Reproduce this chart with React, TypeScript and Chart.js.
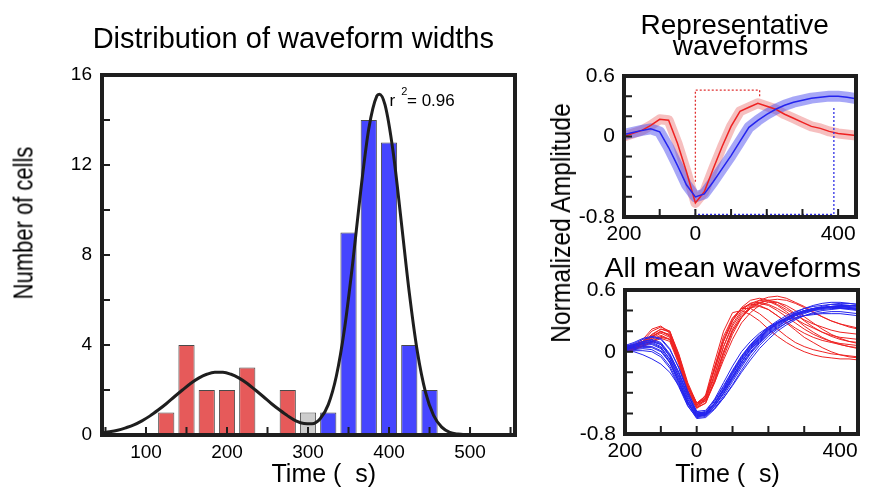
import React, { useEffect, useRef } from 'react';
import { Chart, registerables } from 'chart.js';

Chart.register(...registerables);

const FONT = '"Liberation Sans", Arial, Helvetica, sans-serif';
const INK = '#1e1e1e';

// ---------------- Histogram (left) ----------------
const BIN_CENTERS = [125, 150, 175, 200, 225, 250, 275, 300, 325, 350, 375, 400, 425, 450];
const CELL_COUNTS = [1, 4, 2, 2, 3, 0, 2, 1, 1, 9, 14, 13, 4, 2];
const BIN_GROUPS = ['narrow', 'narrow', 'narrow', 'narrow', 'narrow', 'narrow', 'narrow', 'mixed', 'wide', 'wide', 'wide', 'wide', 'wide', 'wide'];
const GROUP_COLORS: Record<string, string> = { narrow: '#E65A5A', mixed: '#CDCDCD', wide: '#4545FF' };

// fitted double-gaussian curve
const FIT_X = [45, 55, 65, 75, 85, 95, 105, 115, 125, 135, 145, 155, 165, 175, 185, 195, 205, 215, 225, 235, 245, 255, 265, 275, 285, 295, 305, 315, 325, 335, 345, 355, 365, 375, 385, 388, 395, 405, 415, 425, 435, 445, 455, 465, 475, 485, 495, 505, 525, 555];
const FIT_Y = [0.09, 0.14, 0.21, 0.32, 0.45, 0.63, 0.85, 1.11, 1.39, 1.70, 2.00, 2.29, 2.53, 2.70, 2.79, 2.79, 2.70, 2.53, 2.29, 2.00, 1.70, 1.39, 1.11, 0.85, 0.63, 0.51, 0.50, 0.72, 1.35, 2.62, 4.71, 7.59, 10.83, 13.61, 15.07, 15.15, 14.68, 12.60, 9.52, 6.33, 3.70, 1.91, 0.87, 0.35, 0.12, 0.04, 0.01, 0, 0, 0];

const HIST_X_LABELS = [100, 200, 300, 400, 500];
const HIST_Y_LABELS = [0, 4, 8, 12, 16];

// ---------------- Waveforms (right) ----------------
const T = [-200, -175, -150, -125, -100, -75, -50, -25, 0, 25, 50, 75, 100, 125, 150, 175, 200, 225, 250, 275, 300, 325, 350, 375, 400, 425, 450];

const RED_MEAN = [0.0, 0.03, 0.06, 0.11, 0.17, 0.16, -0.07, -0.35, -0.66, -0.55, -0.32, -0.1, 0.1, 0.25, 0.29, 0.33, 0.3, 0.27, 0.22, 0.18, 0.14, 0.1, 0.08, 0.05, 0.03, 0.02, 0.01];
const BLUE_MEAN = [0.02, 0.04, 0.06, 0.075, 0.045, -0.11, -0.29, -0.48, -0.6, -0.57, -0.45, -0.32, -0.19, -0.05, 0.09, 0.16, 0.22, 0.27, 0.31, 0.34, 0.36, 0.38, 0.39, 0.4, 0.4, 0.39, 0.375];

const RED_MARK_X = [0, 0, 180, 180];
const RED_MARK_Y = [-0.45, 0.46, 0.46, 0.39];
const BLUE_MARK_X = [0, 0, 388, 388];
const BLUE_MARK_Y = [-0.72, -0.773, -0.773, 0.29];

const NARROW_1 = [0.02, 0.05, 0.1, 0.2, 0.24, 0.2, -0.05, -0.35, -0.52, -0.42, -0.1, 0.2, 0.38, 0.4, 0.36, 0.3, 0.22, 0.15, 0.09, 0.04, 0.0, -0.03, -0.05, -0.06, -0.07, -0.07, -0.08];
const NARROW_2 = [0.03, 0.06, 0.12, 0.22, 0.25, 0.18, -0.08, -0.38, -0.55, -0.45, -0.15, 0.15, 0.33, 0.42, 0.42, 0.37, 0.3, 0.22, 0.15, 0.09, 0.05, 0.02, 0.0, -0.02, -0.03, -0.04, -0.05];
const NARROW_3 = [0.0, 0.03, 0.08, 0.15, 0.2, 0.15, -0.1, -0.38, -0.52, -0.47, -0.22, 0.05, 0.25, 0.38, 0.45, 0.47, 0.45, 0.4, 0.34, 0.28, 0.22, 0.17, 0.13, 0.1, 0.08, 0.07, 0.06];
const NARROW_4 = [0.01, 0.04, 0.07, 0.12, 0.16, 0.12, -0.1, -0.36, -0.5, -0.48, -0.28, -0.02, 0.2, 0.34, 0.43, 0.48, 0.5, 0.48, 0.43, 0.37, 0.3, 0.24, 0.19, 0.15, 0.12, 0.1, 0.09];
const NARROW_5 = [0.04, 0.06, 0.1, 0.16, 0.22, 0.2, -0.02, -0.3, -0.5, -0.43, -0.18, 0.1, 0.3, 0.43, 0.5, 0.52, 0.5, 0.46, 0.41, 0.36, 0.31, 0.27, 0.24, 0.21, 0.19, 0.18, 0.17];
const NARROW_6 = [0.02, 0.04, 0.08, 0.13, 0.18, 0.14, -0.08, -0.34, -0.5, -0.46, -0.25, 0.0, 0.2, 0.33, 0.42, 0.47, 0.5, 0.51, 0.5, 0.47, 0.43, 0.38, 0.34, 0.3, 0.27, 0.25, 0.23];
const NARROW_7 = [0.0, 0.02, 0.06, 0.1, 0.15, 0.12, -0.1, -0.38, -0.53, -0.48, -0.3, -0.08, 0.12, 0.28, 0.38, 0.45, 0.48, 0.48, 0.45, 0.4, 0.34, 0.28, 0.22, 0.17, 0.13, 0.1, 0.08];
const NARROW_8 = [0.05, 0.07, 0.1, 0.15, 0.19, 0.17, -0.04, -0.32, -0.52, -0.44, -0.15, 0.12, 0.32, 0.42, 0.46, 0.45, 0.41, 0.35, 0.29, 0.23, 0.18, 0.14, 0.11, 0.09, 0.07, 0.05, 0.04];
const NARROW_9 = [0.01, 0.03, 0.06, 0.1, 0.14, 0.12, -0.06, -0.33, -0.5, -0.45, -0.22, 0.05, 0.27, 0.4, 0.47, 0.5, 0.49, 0.45, 0.39, 0.32, 0.25, 0.19, 0.14, 0.1, 0.07, 0.05, 0.03];
const NARROW_10 = [0.03, 0.05, 0.09, 0.14, 0.2, 0.16, -0.05, -0.34, -0.54, -0.5, -0.3, -0.05, 0.17, 0.33, 0.44, 0.5, 0.53, 0.54, 0.52, 0.48, 0.44, 0.39, 0.34, 0.3, 0.27, 0.24, 0.22];
const NARROW_11 = [0.0, 0.02, 0.05, 0.09, 0.13, 0.1, -0.12, -0.4, -0.55, -0.5, -0.28, 0.0, 0.22, 0.36, 0.43, 0.44, 0.41, 0.35, 0.28, 0.21, 0.14, 0.09, 0.04, 0.0, -0.03, -0.05, -0.06];
const NARROW_12 = [0.02, 0.04, 0.09, 0.17, 0.22, 0.19, -0.03, -0.32, -0.5, -0.43, -0.17, 0.1, 0.3, 0.42, 0.47, 0.48, 0.46, 0.42, 0.37, 0.32, 0.27, 0.23, 0.19, 0.16, 0.14, 0.13, 0.12];

const WIDE_1 = [0.03, 0.06, 0.08, 0.09, 0.05, -0.08, -0.27, -0.48, -0.62, -0.6, -0.5, -0.36, -0.2, -0.06, 0.06, 0.15, 0.22, 0.28, 0.32, 0.36, 0.39, 0.41, 0.42, 0.43, 0.43, 0.42, 0.41];
const WIDE_2 = [0.05, 0.08, 0.12, 0.14, 0.12, 0.02, -0.15, -0.38, -0.58, -0.6, -0.52, -0.4, -0.26, -0.12, 0.0, 0.1, 0.18, 0.25, 0.3, 0.35, 0.38, 0.41, 0.43, 0.44, 0.45, 0.45, 0.44];
const WIDE_3 = [0.0, 0.0, -0.03, -0.07, -0.12, -0.2, -0.33, -0.5, -0.63, -0.62, -0.53, -0.4, -0.25, -0.1, 0.03, 0.13, 0.21, 0.28, 0.33, 0.37, 0.4, 0.42, 0.43, 0.44, 0.44, 0.43, 0.42];
const WIDE_4 = [0.02, 0.04, 0.06, 0.07, 0.03, -0.1, -0.3, -0.5, -0.64, -0.63, -0.55, -0.43, -0.29, -0.15, -0.02, 0.08, 0.17, 0.24, 0.3, 0.35, 0.39, 0.42, 0.44, 0.46, 0.47, 0.47, 0.46];
const WIDE_5 = [0.06, 0.09, 0.13, 0.15, 0.13, 0.03, -0.16, -0.4, -0.6, -0.58, -0.46, -0.3, -0.14, 0.0, 0.1, 0.18, 0.24, 0.28, 0.31, 0.33, 0.35, 0.36, 0.37, 0.37, 0.37, 0.36, 0.35];
const WIDE_6 = [0.01, 0.02, 0.03, 0.02, -0.03, -0.14, -0.32, -0.52, -0.65, -0.64, -0.56, -0.45, -0.32, -0.18, -0.05, 0.06, 0.15, 0.22, 0.28, 0.33, 0.37, 0.4, 0.42, 0.43, 0.44, 0.44, 0.43];
const WIDE_7 = [0.04, 0.06, 0.09, 0.1, 0.07, -0.04, -0.22, -0.44, -0.6, -0.6, -0.5, -0.37, -0.22, -0.08, 0.04, 0.13, 0.21, 0.27, 0.32, 0.36, 0.39, 0.41, 0.43, 0.44, 0.45, 0.45, 0.45];
const WIDE_8 = [0.02, 0.03, 0.04, 0.04, 0.0, -0.1, -0.28, -0.49, -0.63, -0.61, -0.51, -0.38, -0.24, -0.1, 0.02, 0.11, 0.19, 0.26, 0.31, 0.35, 0.38, 0.4, 0.41, 0.42, 0.42, 0.41, 0.4];
const WIDE_9 = [0.05, 0.07, 0.1, 0.12, 0.09, -0.02, -0.2, -0.42, -0.59, -0.59, -0.5, -0.38, -0.24, -0.1, 0.02, 0.12, 0.2, 0.27, 0.33, 0.38, 0.42, 0.45, 0.47, 0.48, 0.48, 0.47, 0.46];
const WIDE_10 = [0.03, 0.05, 0.07, 0.08, 0.04, -0.07, -0.25, -0.46, -0.61, -0.61, -0.53, -0.41, -0.27, -0.13, -0.01, 0.09, 0.17, 0.23, 0.28, 0.32, 0.35, 0.37, 0.38, 0.39, 0.39, 0.38, 0.37];
const WIDE_11 = [0.0, 0.01, 0.01, 0.0, -0.05, -0.16, -0.34, -0.53, -0.64, -0.61, -0.5, -0.36, -0.21, -0.07, 0.05, 0.14, 0.22, 0.28, 0.33, 0.37, 0.4, 0.42, 0.43, 0.43, 0.43, 0.42, 0.41];
const WIDE_12 = [0.04, 0.07, 0.1, 0.11, 0.08, -0.03, -0.2, -0.42, -0.58, -0.57, -0.47, -0.33, -0.18, -0.04, 0.07, 0.16, 0.23, 0.29, 0.33, 0.37, 0.4, 0.42, 0.43, 0.44, 0.44, 0.43, 0.42];
const WIDE_13 = [0.02, 0.04, 0.05, 0.05, 0.01, -0.11, -0.3, -0.5, -0.62, -0.62, -0.55, -0.45, -0.33, -0.2, -0.08, 0.03, 0.12, 0.2, 0.26, 0.31, 0.35, 0.38, 0.4, 0.41, 0.42, 0.42, 0.41];
const WIDE_14 = [0.03, 0.05, 0.08, 0.1, 0.07, -0.05, -0.24, -0.46, -0.61, -0.59, -0.48, -0.34, -0.19, -0.05, 0.07, 0.16, 0.24, 0.3, 0.35, 0.39, 0.42, 0.44, 0.45, 0.46, 0.46, 0.45, 0.44];

const NARROW_WAVES = [NARROW_1, NARROW_2, NARROW_3, NARROW_4, NARROW_5, NARROW_6, NARROW_7, NARROW_8, NARROW_9, NARROW_10, NARROW_11, NARROW_12];
const WIDE_WAVES = [WIDE_1, WIDE_2, WIDE_3, WIDE_4, WIDE_5, WIDE_6, WIDE_7, WIDE_8, WIDE_9, WIDE_10, WIDE_11, WIDE_12, WIDE_13, WIDE_14];

const WAVE_X_TICK_VALUES = [-200, 0, 400];
const WAVE_X_TICK_TEXT = ['200', '0', '400'];
const WAVE_Y_TICK_VALUES = [0.6, 0, -0.8];
const WAVE_Y_TICK_TEXT = ['0.6', '0', '-0.8'];

const RED = '#EE2222';
const BLUE = '#2424EE';

// ---------------- helpers ----------------
const pts = (xs: number[], ys: number[]) => xs.map((x, i) => ({ x, y: ys[i] }));

const framePlugin = {
  id: 'frame',
  afterDatasetsDraw(chart: any, _args: any, opts: any) {
    const { ctx, chartArea: a, scales } = chart;
    const xs = scales.x;
    const ys = scales.y;
    const len = opts.tickLength ?? 8;
    ctx.save();
    ctx.strokeStyle = INK;
    ctx.lineWidth = opts.tickWidth ?? 2;
    ctx.beginPath();
    xs.ticks.forEach((t: any) => {
      const px = xs.getPixelForValue(t.value);
      if (px < a.left + 3 || px > a.right - 3) return;
      ctx.moveTo(px, a.bottom);
      ctx.lineTo(px, a.bottom - len);
    });
    ys.ticks.forEach((t: any) => {
      const py = ys.getPixelForValue(t.value);
      if (py < a.top + 3 || py > a.bottom - 3) return;
      ctx.moveTo(a.left, py);
      ctx.lineTo(a.left + len, py);
    });
    ctx.stroke();
    ctx.lineWidth = opts.width ?? 4;
    ctx.strokeRect(a.left, a.top, a.right - a.left, a.bottom - a.top);
    ctx.restore();
  },
};

const matchLabel = (vals: number[], texts: string[]) => (v: any) => {
  const n = Number(v);
  for (let i = 0; i < vals.length; i++) if (Math.abs(vals[i] - n) < 1e-6) return texts[i];
  return '';
};

function histConfig(): any {
  return {
    type: 'bar',
    data: {
      datasets: [
        {
          type: 'line',
          data: pts(FIT_X, FIT_Y),
          borderColor: INK,
          borderWidth: 3,
          pointRadius: 0,
          cubicInterpolationMode: 'monotone',
          fill: false,
        },
        {
          type: 'bar',
          data: pts(BIN_CENTERS, CELL_COUNTS),
          backgroundColor: BIN_GROUPS.map((g) => GROUP_COLORS[g]),
          borderColor: '#4a4a4a',
          borderWidth: 1,
          barPercentage: 0.8,
          categoryPercentage: 1,
        },
      ],
    },
    options: {
      responsive: false,
      animation: false,
      devicePixelRatio: 1,
      layout: { padding: { left: 0, top: 75, right: 45, bottom: 0 } },
      plugins: {
        legend: { display: false },
        tooltip: { enabled: false },
        frame: { width: 4, tickLength: 8, tickWidth: 2 },
      },
      scales: {
        x: {
          type: 'linear',
          min: 45.7,
          max: 555.5,
          offset: false,
          grid: { display: false, drawTicks: false },
          border: { display: false },
          ticks: {
            stepSize: 50,
            includeBounds: false,
            autoSkip: false,
            maxRotation: 0,
            padding: 6,
            color: '#000',
            font: { family: FONT, size: 19 },
            callback: (v: any) => (HIST_X_LABELS.includes(Number(v)) ? String(v) : ''),
          },
          afterFit: (s: any) => {
            s.height = 56;
          },
        },
        y: {
          type: 'linear',
          min: 0,
          max: 16,
          grid: { display: false, drawTicks: false },
          border: { display: false },
          ticks: {
            stepSize: 2,
            autoSkip: false,
            padding: 10,
            color: '#000',
            font: { family: FONT, size: 19 },
            callback: (v: any) => (HIST_Y_LABELS.includes(Number(v)) ? String(v) : ''),
          },
          afterFit: (s: any) => {
            s.width = 102;
          },
        },
      },
    },
    plugins: [framePlugin],
  };
}

function waveScales(yWidth: number, xHeight: number): any {
  return {
    x: {
      type: 'linear',
      min: -200,
      max: 450,
      offset: false,
      grid: { display: false, drawTicks: false },
      border: { display: false },
      ticks: {
        stepSize: 100,
        includeBounds: false,
        autoSkip: false,
        maxRotation: 0,
        padding: 5,
        color: '#000',
        font: { family: FONT, size: 21 },
        callback: matchLabel(WAVE_X_TICK_VALUES, WAVE_X_TICK_TEXT),
      },
      afterFit: (s: any) => {
        s.height = xHeight;
      },
    },
    y: {
      type: 'linear',
      min: -0.8,
      max: 0.6,
      grid: { display: false, drawTicks: false },
      border: { display: false },
      ticks: {
        stepSize: 0.2,
        autoSkip: false,
        padding: 9,
        color: '#000',
        font: { family: FONT, size: 21 },
        callback: matchLabel(WAVE_Y_TICK_VALUES, WAVE_Y_TICK_TEXT),
      },
      afterFit: (s: any) => {
        s.width = yWidth;
      },
    },
  };
}

const lineDs = (data: any, color: string, width: number, extra: any = {}) => ({
  type: 'line',
  data,
  borderColor: color,
  borderWidth: width,
  pointRadius: 0,
  fill: false,
  tension: 0,
  ...extra,
});

function repConfig(): any {
  return {
    type: 'line',
    data: {
      // first dataset is drawn on top
      datasets: [
        lineDs(pts(BLUE_MARK_X, BLUE_MARK_Y), '#3030E6', 1.3, { borderDash: [2, 2] }),
        lineDs(pts(RED_MARK_X, RED_MARK_Y), '#E03030', 1.3, { borderDash: [2, 2] }),
        lineDs(pts(T, BLUE_MEAN), BLUE, 1.5),
        lineDs(pts(T, RED_MEAN), RED, 1.5),
        lineDs(pts(T, BLUE_MEAN), 'rgba(80, 80, 240, 0.5)', 11, { borderJoinStyle: 'round' }),
        lineDs(pts(T, RED_MEAN), 'rgba(232, 95, 95, 0.4)', 10, { borderJoinStyle: 'round' }),
      ],
    },
    options: {
      responsive: false,
      animation: false,
      devicePixelRatio: 1,
      layout: { padding: { left: 0, top: 76, right: 15, bottom: 0 } },
      plugins: {
        legend: { display: false },
        tooltip: { enabled: false },
        frame: { width: 4, tickLength: 8, tickWidth: 2 },
      },
      scales: waveScales(64, 33),
    },
    plugins: [framePlugin],
  };
}

function allConfig(): any {
  const ds: any[] = [];
  WIDE_WAVES.forEach((w) => ds.push(lineDs(pts(T, w), BLUE, 1)));
  NARROW_WAVES.forEach((w) => ds.push(lineDs(pts(T, w), RED, 1)));
  return {
    type: 'line',
    data: { datasets: ds },
    options: {
      responsive: false,
      animation: false,
      devicePixelRatio: 1,
      layout: { padding: { left: 0, top: 40, right: 13, bottom: 0 } },
      plugins: {
        legend: { display: false },
        tooltip: { enabled: false },
        frame: { width: 4, tickLength: 8, tickWidth: 2 },
      },
      scales: waveScales(65, 57),
    },
    plugins: [framePlugin],
  };
}

function ChartBox({ make, left, top, width, height }: any) {
  const ref = useRef<HTMLCanvasElement>(null);
  useEffect(() => {
    const chart = new Chart(ref.current as HTMLCanvasElement, make());
    return () => chart.destroy();
  }, []);
  return (
    <canvas
      ref={ref}
      width={width}
      height={height}
      style={{ position: 'absolute', left, top, width, height }}
    />
  );
}

// horizontal text placed by centre x and baseline y
function HText({ children, cx, left, baseline, size }: any) {
  const style: any = {
    position: 'absolute',
    top: baseline - 0.8465 * size,
    fontSize: size,
    lineHeight: size + 'px',
    fontFamily: FONT,
    whiteSpace: 'pre',
    color: '#000',
  };
  if (cx !== undefined) {
    style.left = cx;
    style.transform = 'translateX(-50%)';
  } else {
    style.left = left;
  }
  return <div style={style}>{children}</div>;
}

// vertical (rotated) text placed by centre y and baseline x
function VText({ children, baselineX, cy, size, squeeze = 1 }: any) {
  return (
    <div
      style={{
        position: 'absolute',
        left: baselineX - 0.3465 * size,
        top: cy,
        transform: `translate(-50%, -50%) rotate(-90deg) scaleX(${squeeze})`,
        fontSize: size,
        lineHeight: size + 'px',
        fontFamily: FONT,
        whiteSpace: 'pre',
        color: '#000',
      }}
    >
      {children}
    </div>
  );
}

export default function App() {
  return (
    <div style={{ position: 'absolute', left: 0, top: 0, width: 871, height: 491, background: '#fff', overflow: 'hidden' }}>
      <ChartBox make={histConfig} left={0} top={0} width={560} height={491} />
      <ChartBox make={repConfig} left={560} top={0} width={311} height={250} />
      <ChartBox make={allConfig} left={560} top={250} width={311} height={241} />

      <HText cx={293.3} baseline={48.3} size={29}>Distribution of waveform widths</HText>
      <HText cx={734.7} baseline={34.3} size={28}>Representative</HText>
      <HText cx={740.5} baseline={55.5} size={28}>waveforms</HText>
      <HText cx={732.7} baseline={277.3} size={28.5}>All mean waveforms</HText>
      <HText cx={323.8} baseline={481.7} size={25}>Time (  s)</HText>
      <HText cx={727.5} baseline={481.7} size={25}>Time (  s)</HText>

      <HText left={389.5} baseline={106} size={17}>r</HText>
      <HText left={401.3} baseline={95} size={11}>2</HText>
      <HText left={407} baseline={106} size={17}>= 0.96</HText>

      <VText baselineX={33.3} cy={223.3} size={27} squeeze={0.815}>Number of cells</VText>
      <VText baselineX={570.7} cy={222.5} size={28} squeeze={0.88}>Normalized Amplitude</VText>
    </div>
  );
}
